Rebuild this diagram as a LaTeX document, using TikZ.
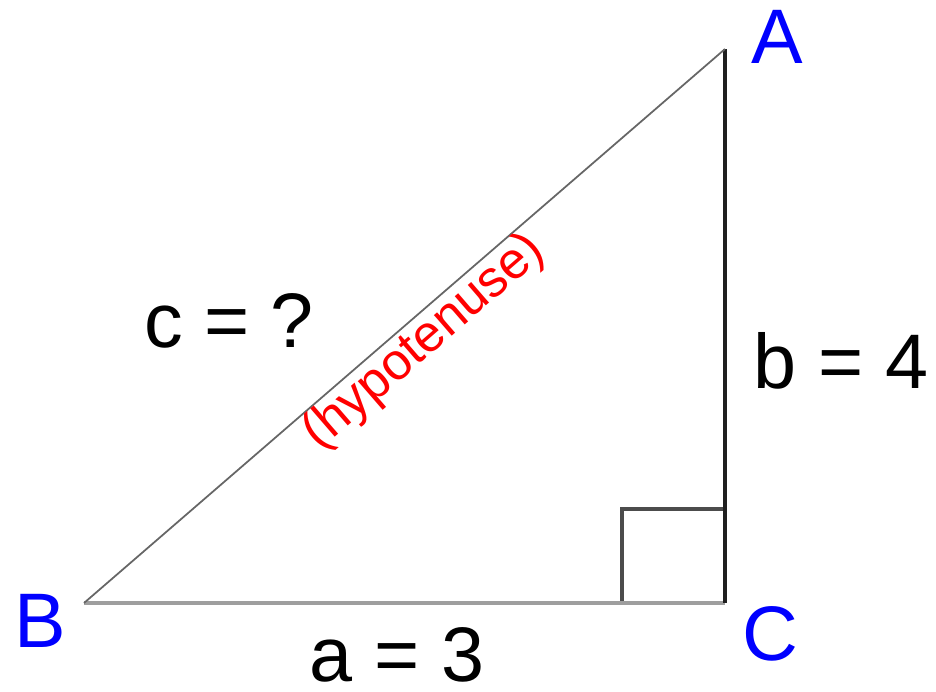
\documentclass[tikz,border=0pt]{standalone}
\usepackage{fontspec}
\setmainfont{Liberation Sans}

\begin{document}
\begin{tikzpicture}[x=0.03cm, y=-0.03cm,
    vertex/.style={text=blue, font=\fontsize{66}{78}\selectfont, inner sep=0pt, anchor=base},
    side/.style={text=black, font=\fontsize{66}{78}\selectfont, inner sep=0pt, anchor=base}]
            \useasboundingbox (0,0) rectangle (936,691);

            \coordinate (B) at (84,603);
            \coordinate (C) at (725,603);
            \coordinate (A) at (725,49);

            % right angle mark
            \draw[black!70, line width=2.8pt] (622,603) -- (622,509) -- (C |- 0,509);

            \draw[black!38, line width=4.2pt] (B) -- (C);
            \draw[black!88, line width=2.8pt] (C) -- (A);
            \draw[black!60, line width=1.5pt] (B) -- (A);

            \node[vertex] (labelA) at (777,63) {A};
            \node[vertex] (labelB) at (40,647) {B};
            \node[vertex] (labelC) at (770,660) {C};

            \node[side] (sidec) at (229,347) {c = ?};
            \node[side] (sideb) at (841,388) {b = 4};
            \node[side] (sidea) at (397,681) {a = 3};

            \path (B) -- (A)
                node[pos=0.505, sloped, anchor=north, inner sep=0pt, yshift=-1pt, text=red,
                     font=\fontsize{44}{52}\selectfont] (hyp) {(hypotenuse)};
        \end{tikzpicture}
\end{document}
